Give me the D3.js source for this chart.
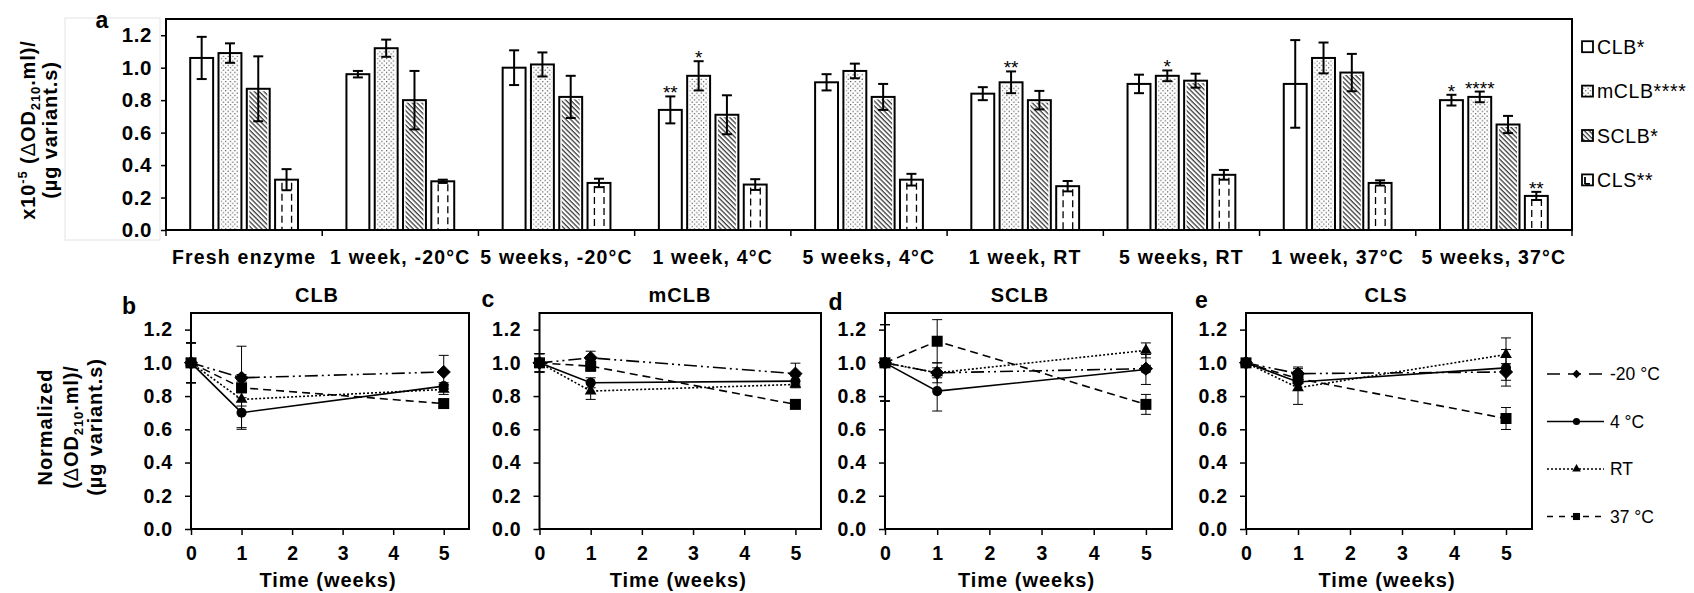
<!DOCTYPE html>
<html>
<head>
<meta charset="utf-8">
<script src="https://cdn.jsdelivr.net/npm/d3@7"></script>
<style>
body { margin: 0; background: #fff; }
text { font-family: "Liberation Sans", Arial, sans-serif; fill: #000; }
.bold { font-weight: bold; }
</style>
</head>
<body>
<div id="chart"></div>
<script>
// ---- data: panel a (activity after storage) ----
var categories = ["Fresh enzyme", "1 week, -20°C", "5 weeks, -20°C", "1 week, 4°C", "5 weeks, 4°C",
                  "1 week, RT", "5 weeks, RT", "1 week, 37°C", "5 weeks, 37°C"];
var variants = ["CLB", "mCLB", "SCLB", "CLS"];
var variantLegend = ["CLB*", "mCLB****", "SCLB*", "CLS**"];

var clbMean  = [1.06, 0.96, 1.00, 0.74, 0.91, 0.84, 0.90, 0.90, 0.80];
var clbErr   = [0.13, 0.02, 0.107, 0.083, 0.05, 0.04, 0.057, 0.27, 0.033];
var mclbMean = [1.09, 1.12, 1.02, 0.95, 0.98, 0.91, 0.95, 1.06, 0.82];
var mclbErr  = [0.06, 0.053, 0.074, 0.09, 0.045, 0.067, 0.033, 0.095, 0.033];
var sclbMean = [0.87, 0.80, 0.82, 0.71, 0.82, 0.80, 0.92, 0.97, 0.65];
var sclbErr  = [0.20, 0.18, 0.13, 0.12, 0.08, 0.057, 0.043, 0.115, 0.053];
var clsMean  = [0.31, 0.30, 0.29, 0.28, 0.31, 0.27, 0.34, 0.29, 0.21];
var clsErr   = [0.065, 0.01, 0.026, 0.033, 0.036, 0.032, 0.03, 0.016, 0.025];

// significance marks: [category index, variant index, label]
var stars = [[3, 0, "**"], [3, 1, "*"], [5, 1, "**"], [6, 1, "*"], [8, 0, "*"], [8, 1, "****"], [8, 3, "**"]];

var yTicks = [0, 0.2, 0.4, 0.6, 0.8, 1.0, 1.2];

// ---- data: panels b-e (normalized, per condition: -20, 4, RT, 37) ----
var weeks = [0, 1, 5];
var weekTicks = [0, 1, 2, 3, 4, 5];
var conditions = ["-20 °C", "4 °C", "RT", "37 °C"];

var clbNorm     = [[1, 0.91, 0.945], [1, 0.70, 0.86], [1, 0.78, 0.84], [1, 0.85, 0.755]];
var clbNormErr  = [[0.12, 0.02, 0.10], [0.12, 0.09, 0.02], [0.12, 0.04, 0.03], [0.12, 0.25, 0.02]];
var mclbNorm    = [[1, 1.03, 0.935], [1, 0.88, 0.89], [1, 0.83, 0.87], [1, 0.98, 0.75]];
var mclbNormErr = [[0.055, 0.04, 0.063], [0.055, 0.03, 0.03], [0.055, 0.05, 0.02], [0.055, 0.03, 0.015]];
var sclbNorm    = [[1, 0.94, 0.965], [1, 0.83, 0.96], [1, 0.94, 1.075], [1, 1.13, 0.75]];
var sclbNormErr = [[0.23, 0.03, 0.02], [0.23, 0.12, 0.09], [0.23, 0.06, 0.045], [0.23, 0.13, 0.06]];
var clsNorm     = [[1, 0.935, 0.945], [1, 0.885, 0.97], [1, 0.85, 1.05], [1, 0.905, 0.665]];
var clsNormErr  = [[0.02, 0.03, 0.05], [0.02, 0.05, 0.11], [0.02, 0.10, 0.10], [0.02, 0.07, 0.066]];

var means = [clbMean, mclbMean, sclbMean, clsMean];
var errs = [clbErr, mclbErr, sclbErr, clsErr];

var W = 1694, H = 593;
var svg = d3.select("#chart").append("svg").attr("width", W).attr("height", H);
var defs = svg.append("defs");

// patterns
var pd = defs.append("pattern").attr("id", "dots").attr("patternUnits", "userSpaceOnUse")
    .attr("width", 4.6).attr("height", 4.6);
pd.append("rect").attr("width", 4.6).attr("height", 4.6).attr("fill", "#fff");
pd.append("rect").attr("x", 0.6).attr("y", 0.6).attr("width", 1).attr("height", 1).attr("fill", "#000");
pd.append("rect").attr("x", 2.9).attr("y", 2.9).attr("width", 1).attr("height", 1).attr("fill", "#000");

var ph = defs.append("pattern").attr("id", "hatch").attr("patternUnits", "userSpaceOnUse")
    .attr("width", 3.4).attr("height", 3.4).attr("patternTransform", "rotate(-45)");
ph.append("rect").attr("width", 3.4).attr("height", 3.4).attr("fill", "#fff");
ph.append("line").attr("x1", 1).attr("x2", 1).attr("y1", 0).attr("y2", 3.4)
    .attr("stroke", "#000").attr("stroke-width", 1);

// ================= panel a =================
var A = {l: 166, r: 1572, t: 19, b: 230};

// faint frame around the axis title area (as in the source figure)
svg.append("rect").attr("x", 65).attr("y", 18).attr("width", 95).attr("height", 222)
    .attr("fill", "none").attr("stroke", "#e4e4e4").attr("stroke-width", 1);

var x0 = d3.scaleBand().domain(categories).range([A.l, A.r]).paddingInner(0.31).paddingOuter(0.155);
var x1 = d3.scaleBand().domain(variants).range([0, x0.bandwidth()]).paddingInner(0.19);
var yA = d3.scaleLinear().domain([0, 1.3]).range([A.b, A.t]);

var gA = svg.append("g");

gA.append("g")
    .attr("transform", "translate(" + A.l + ",0)")
    .call(d3.axisLeft(yA).tickValues(yTicks).tickFormat(d3.format(".1f")).tickSize(5).tickPadding(9))
    .call(function(g) { g.select(".domain").remove(); })
    .call(function(g) {
        g.selectAll("line").attr("stroke-width", 1.5);
        g.selectAll("text").attr("class", "bold").style("font-size", "20.5px")
            .style("font-family", "'Liberation Sans', Arial, sans-serif").attr("letter-spacing", 0.6);
    });

// category boundary ticks
d3.range(categories.length + 1).forEach(function(i) {
    var xx = A.l + i * x0.step();
    gA.append("line").attr("x1", xx).attr("x2", xx).attr("y1", A.b).attr("y2", A.b + 6)
        .attr("stroke", "#000").attr("stroke-width", 1.5);
});

categories.forEach(function(c, i) {
    var g = gA.append("g").attr("transform", "translate(" + x0(c) + ",0)");
    variants.forEach(function(v, j) {
        var m = means[j][i], e = errs[j][i];
        var bx = x1(v), bw = x1.bandwidth();
        g.append("rect").attr("x", bx).attr("y", yA(m)).attr("width", bw).attr("height", yA(0) - yA(m))
            .attr("fill", "#fff").attr("stroke", "#000").attr("stroke-width", 2);
        if (j === 1 || j === 2) {
            g.append("rect").attr("x", bx + 2.5).attr("y", yA(m) + 2.5).attr("width", bw - 5)
                .attr("height", Math.max(0, yA(0) - yA(m) - 3))
                .attr("fill", j === 1 ? "url(#dots)" : "url(#hatch)");
        }
        if (j === 3) {
            [0.3, 0.72].forEach(function(f) {
                g.append("line").attr("x1", bx + bw * f).attr("x2", bx + bw * f)
                    .attr("y1", yA(m) + 3).attr("y2", yA(0))
                    .attr("stroke", "#000").attr("stroke-width", 1.3).attr("stroke-dasharray", "7,4");
            });
        }
        var cx = bx + bw / 2;
        g.append("line").attr("x1", cx).attr("x2", cx).attr("y1", yA(m + e)).attr("y2", yA(m - e))
            .attr("stroke", "#000").attr("stroke-width", 2);
        [m + e, m - e].forEach(function(val) {
            g.append("line").attr("x1", cx - 5).attr("x2", cx + 5).attr("y1", yA(val)).attr("y2", yA(val))
                .attr("stroke", "#000").attr("stroke-width", 2);
        });
    });
});

stars.forEach(function(s) {
    var c = categories[s[0]], v = variants[s[1]];
    var top = means[s[1]][s[0]] + errs[s[1]][s[0]];
    gA.append("text").attr("x", x0(c) + x1(v) + x1.bandwidth() / 2).attr("y", yA(top) + 3)
        .attr("text-anchor", "middle").style("font-size", "19px").text(s[2]);
});

// frame
gA.append("rect").attr("x", A.l).attr("y", A.t).attr("width", A.r - A.l).attr("height", A.b - A.t)
    .attr("fill", "none").attr("stroke", "#000").attr("stroke-width", 2);

// category labels
categories.forEach(function(c) {
    gA.append("text").attr("class", "bold").attr("x", x0(c) + x0.bandwidth() / 2).attr("y", 263.5)
        .attr("text-anchor", "middle").attr("letter-spacing", 1.2).style("font-size", "19.5px").text(c);
});

// panel letter
svg.append("text").attr("class", "bold").attr("x", 102).attr("y", 28).attr("text-anchor", "middle")
    .style("font-size", "23px").text("a");

// rotated multi-line axis title
function ytitle(parent, x, y, lines) {
    lines.forEach(function(parts, k) {
        var t = parent.append("text").attr("class", "bold")
            .attr("transform", "translate(" + x[k] + "," + y + ") rotate(-90)")
            .attr("text-anchor", "middle").attr("letter-spacing", 0.9).style("font-size", "20px");
        parts.forEach(function(p) {
            var ts = t.append("tspan").text(p.t);
            if (p.sup) ts.style("font-size", "13px").attr("dy", p.dy);
            if (p.dy && !p.sup) ts.attr("dy", p.dy);
            if (p.light) ts.style("font-weight", "normal");
        });
    });
}
ytitle(svg, [35, 57], 130, [
    [{t: "x10"}, {t: "-5", sup: true, dy: -8}, {t: " (", dy: 8}, {t: "Δ", light: true}, {t: "OD"},
     {t: "210", sup: true, dy: 5}, {t: ".ml)/", dy: -5}],
    [{t: "(µg variant.s)"}]
]);

// legend (panel a)
variantLegend.forEach(function(lbl, j) {
    var cy = 46.7 + j * 44.4;
    var lg = svg.append("g");
    lg.append("rect").attr("x", 1582).attr("y", cy - 5.5).attr("width", 11).attr("height", 11)
        .attr("fill", j === 1 ? "url(#dots)" : j === 2 ? "url(#hatch)" : "#fff")
        .attr("stroke", "#000").attr("stroke-width", 1.8);
    if (j === 3) {
        lg.append("line").attr("x1", 1585).attr("x2", 1585).attr("y1", cy - 3).attr("y2", cy + 4)
            .attr("stroke", "#000").attr("stroke-width", 1.8);
        lg.append("line").attr("x1", 1585).attr("x2", 1590).attr("y1", cy + 4).attr("y2", cy + 4)
            .attr("stroke", "#000").attr("stroke-width", 1.8);
    }
    lg.append("text").attr("x", 1597).attr("y", cy).attr("dy", "0.36em").style("font-size", "19.5px")
        .attr("letter-spacing", 0.6).text(lbl);
});

// ================= panels b-e =================
var panelData = [clbNorm, mclbNorm, sclbNorm, clsNorm];
var panelErr = [clbNormErr, mclbNormErr, sclbNormErr, clsNormErr];
var panelNames = ["CLB", "mCLB", "SCLB", "CLS"];
var panelLetters = ["b", "c", "d", "e"];
var panelBox = [
    {l: 191, r: 469, lx: 129, ly: 314, tx: 317},
    {l: 539.5, r: 821, lx: 488, ly: 307, tx: 680},
    {l: 885, r: 1172, lx: 835.5, ly: 310, tx: 1020},
    {l: 1246, r: 1532, lx: 1201.5, ly: 308, tx: 1386}
];
var PT = 313, PB = 529;

var dashes = ["13,4,2,4,2,4", null, "2,2", "8,5"];
var legendDashes = ["13,8", null, "2,2", "6,6"];
var symbols = [d3.symbolDiamond2 || d3.symbolDiamond, d3.symbolCircle, d3.symbolTriangle, d3.symbolSquare];
var symSizes = [110, 80, 60, 121];
var symSizesLegend = [45, 40, 32, 50];

var yP = d3.scaleLinear().domain([0, 1.3]).range([PB, PT]);

panelBox.forEach(function(pb, p) {
    var xP = d3.scaleLinear().domain([0, 5.5]).range([pb.l, pb.r]);
    var g = svg.append("g");

    g.append("g").attr("transform", "translate(" + pb.l + ",0)")
        .call(d3.axisLeft(yP).tickValues(yTicks).tickFormat(d3.format(".1f")).tickSize(6).tickPadding(12))
        .call(function(a) { a.select(".domain").remove(); })
        .call(function(a) {
            a.selectAll("line").attr("stroke-width", 1.5);
            a.selectAll("text").attr("class", "bold").style("font-size", "19.5px")
                .style("font-family", "'Liberation Sans', Arial, sans-serif").attr("letter-spacing", 0.8);
        });
    g.append("g").attr("transform", "translate(0," + PB + ")")
        .call(d3.axisBottom(xP).tickValues(weekTicks).tickFormat(d3.format("d")).tickSize(6).tickPadding(11))
        .call(function(a) { a.select(".domain").remove(); })
        .call(function(a) {
            a.selectAll("line").attr("stroke-width", 1.5);
            a.selectAll("text").attr("class", "bold").style("font-size", "19.5px")
                .style("font-family", "'Liberation Sans', Arial, sans-serif");
        });

    var line = d3.line().x(function(d, i) { return xP(weeks[i]); }).y(function(d) { return yP(d); });

    panelData[p].forEach(function(series, k) {
        g.append("path").datum(series).attr("d", line).attr("fill", "none")
            .attr("stroke", "#000").attr("stroke-width", 1.6)
            .attr("stroke-dasharray", dashes[k]);
    });
    panelData[p].forEach(function(series, k) {
        series.forEach(function(v, i) {
            var e = panelErr[p][k][i], cx = xP(weeks[i]);
            g.append("line").attr("x1", cx).attr("x2", cx).attr("y1", yP(v + e)).attr("y2", yP(v - e))
                .attr("stroke", "#000").attr("stroke-width", 1);
            [v + e, v - e].forEach(function(val) {
                g.append("line").attr("x1", cx - 5).attr("x2", cx + 5).attr("y1", yP(val)).attr("y2", yP(val))
                    .attr("stroke", "#000").attr("stroke-width", 1);
            });
        });
    });
    panelData[p].forEach(function(series, k) {
        series.forEach(function(v, i) {
            g.append("path").attr("d", d3.symbol().type(symbols[k]).size(symSizes[k])())
                .attr("transform", "translate(" + xP(weeks[i]) + "," + yP(v) + ")")
                .attr("fill", "#000").attr("stroke", symbols[k] === d3.symbolDiamond2 ? "#000" : "none")
                .attr("stroke-width", 1);
        });
    });

    g.append("rect").attr("x", pb.l).attr("y", PT).attr("width", pb.r - pb.l).attr("height", PB - PT)
        .attr("fill", "none").attr("stroke", "#000").attr("stroke-width", 2);

    g.append("text").attr("class", "bold").attr("x", pb.tx).attr("y", 302).attr("text-anchor", "middle")
        .attr("letter-spacing", 1).style("font-size", "20px").text(panelNames[p]);
    g.append("text").attr("class", "bold").attr("x", pb.lx).attr("y", pb.ly).attr("text-anchor", "middle")
        .style("font-size", "23px").text(panelLetters[p]);
    g.append("text").attr("class", "bold").attr("x", (pb.l + pb.r) / 2 - 2).attr("y", 587)
        .attr("text-anchor", "middle").attr("letter-spacing", 1).style("font-size", "20px").text("Time (weeks)");
});

ytitle(svg, [52, 77.5, 102], 427, [
    [{t: "Normalized"}],
    [{t: "("}, {t: "Δ", light: true}, {t: "OD"}, {t: "210", sup: true, dy: 5}, {t: ".ml)/", dy: -5}],
    [{t: "(µg variant.s)"}]
]);

// legend (panels b-e)
conditions.forEach(function(c, k) {
    var cy = 374 + k * 47.5;
    var lg = svg.append("g");
    lg.append("line").attr("x1", 1547).attr("x2", 1604).attr("y1", cy).attr("y2", cy)
        .attr("stroke", "#000").attr("stroke-width", 1.6).attr("stroke-dasharray", legendDashes[k]);
    lg.append("path").attr("d", d3.symbol().type(symbols[k]).size(symSizesLegend[k])())
        .attr("transform", "translate(1576.5," + cy + ")").attr("fill", "#000");
    lg.append("text").attr("x", 1610).attr("y", cy).attr("dy", "0.36em").style("font-size", "17.5px").text(c);
});
</script>
</body>
</html>
